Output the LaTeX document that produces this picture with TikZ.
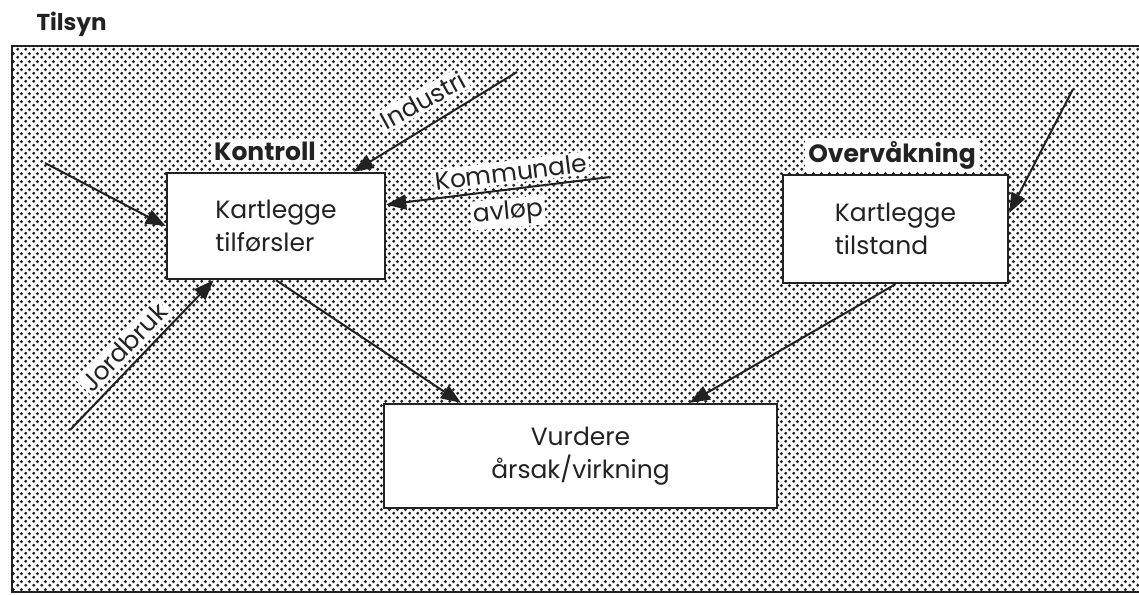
\documentclass[tikz,border=0pt]{standalone}
\usepackage{fontspec}
\setmainfont{Poppins}
\usetikzlibrary{arrows.meta,patterns.meta}
\definecolor{ink}{HTML}{222222}
\tikzdeclarepattern{
  name=halftone, type=uncolored,
  bottom left={(0pt,0pt)}, top right={(8pt,8pt)}, tile size={(8pt,8pt)},
  code={\fill (2pt,2pt) circle (1.8pt); \fill (6pt,6pt) circle (1.8pt);}
}
\begin{document}
\begin{tikzpicture}[x=1pt,y=-1pt,
  txt/.style={font=\fontsize{25}{33}\selectfont, text=ink},
  boxnode/.style={txt, draw=ink, line width=2.4pt, fill=white, inner sep=0pt, align=left},
  headlbl/.style={font=\bfseries\fontsize{25}{30}\selectfont, text=ink, fill=white, inner sep=3pt},
  arrlbl/.style={txt, fill=white, inner sep=2pt},
  arr/.style={draw=ink, line width=2pt, -{Triangle[length=20pt,width=15pt]}}
]
\useasboundingbox (0,0) rectangle (1139,594);
% outer panel
\fill[white] (0,0) rectangle (1139,594);
\fill[pattern=halftone, pattern color=ink] (12,46) rectangle (1139,592);
\draw[ink, line width=2.4pt] (1139,46) -- (12,46) -- (12,592) -- (1139,592);
\node[font=\bfseries\fontsize{23}{27}\selectfont, text=ink, anchor=base west] (tilsyn) at (33,31) {Tilsyn};

% boxes
\node[boxnode, minimum width=218pt, minimum height=106pt] (k) at (276,226) {Kartlegge\\tilførsler};
\node[boxnode, minimum width=225pt, minimum height=108pt] (o) at (895.5,229) {Kartlegge\\tilstand};
\node[boxnode, align=center, minimum width=393pt, minimum height=104pt] (v) at (580.5,456) {Vurdere\\årsak/virkning};

% heading labels
\node[headlbl, anchor=base] (kl) at (265,160) {Kontroll};
\node[headlbl, anchor=base] (ol) at (892,162) {Overvåkning};

% free ends
\coordinate (s1) at (45,163);
\coordinate (s2) at (517,72);
\coordinate (s3) at (610,177);
\coordinate (s4) at (70,430);
\coordinate (s5) at (1073,89);

% connectors
\draw[arr] (s1) -- (k.west);
\draw[arr] (s2) -- (k.35.6);
\draw[arr] (s3) -- (k.11.4);
\draw[arr] (s4) -- (k.221.5);
\draw[arr] (s5) -- (o.8.1);
\draw[arr] (k.south) -- (v.156.3);
\draw[arr] (o.south) -- (v.26.5);

% connector labels
\node[arrlbl, rotate=28.6] (lind) at (423,100) {Industri};
\node[arrlbl, rotate=7] (lkom) at (511,172) {Kommunale};
\node[arrlbl, rotate=5] (lavl) at (508,213) {avløp};
\node[arrlbl, rotate=46] (ljord) at (124,347) {Jordbruk};
\end{tikzpicture}
\end{document}
